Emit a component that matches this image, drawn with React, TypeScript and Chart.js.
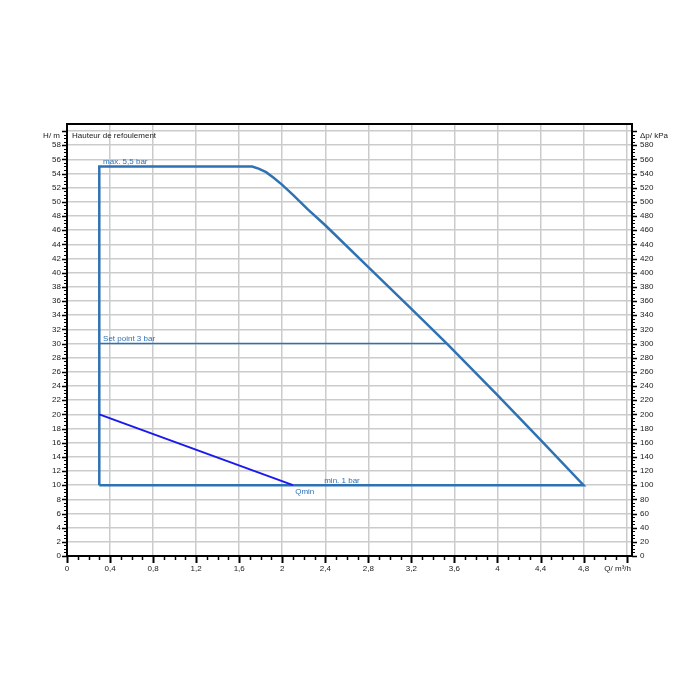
import React, { useEffect, useRef } from 'react';
import { Chart, registerables } from 'chart.js';

Chart.register(...registerables);

// ---- data ----
const xTickValues = [0, 0.4, 0.8, 1.2, 1.6, 2, 2.4, 2.8, 3.2, 3.6, 4, 4.4, 4.8, 5.2];
const xTickLabels = ['0', '0,4', '0,8', '1,2', '1,6', '2', '2,4', '2,8', '3,2', '3,6', '4', '4,4', '4,8', ''];
const yTickValues = [0, 2, 4, 6, 8, 10, 12, 14, 16, 18, 20, 22, 24, 26, 28, 30, 32, 34, 36, 38, 40, 42, 44, 46, 48, 50, 52, 54, 56, 58, 60];
const yLeftLabels = ['0', '2', '4', '6', '8', '10', '12', '14', '16', '18', '20', '22', '24', '26', '28', '30', '32', '34', '36', '38', '40', '42', '44', '46', '48', '50', '52', '54', '56', '58', ''];
const yRightValues = [0, 20, 40, 60, 80, 100, 120, 140, 160, 180, 200, 220, 240, 260, 280, 300, 320, 340, 360, 380, 400, 420, 440, 460, 480, 500, 520, 540, 560, 580, 600];
const yRightLabels = ['0', '20', '40', '60', '80', '100', '120', '140', '160', '180', '200', '220', '240', '260', '280', '300', '320', '340', '360', '380', '400', '420', '440', '460', '480', '500', '520', '540', '560', '580', ''];

// operating range outline (Q m³/h, H m)
const outlineQ = [0.3, 0.3, 1.72, 1.78, 1.85, 1.92, 2.0, 2.1, 2.24, 2.4, 2.8, 3.2, 3.53, 4.0, 4.4, 4.8, 0.3];
const outlineH = [10, 55, 55, 54.7, 54.2, 53.4, 52.4, 51.0, 48.9, 46.7, 40.8, 34.9, 30, 22.7, 16.4, 10, 10];
// set point line
const setPointQ = [0.3, 3.53];
const setPointH = [30, 30];
// Qmin line
const qminQ = [0.3, 2.1];
const qminH = [20, 10];

// annotations
const noteTexts = ['max. 5,5 bar', 'Set point 3 bar', 'min. 1 bar', 'Qmin'];
const noteQ = [0.335, 0.335, 2.39, 2.12];
const noteH = [55.65, 30.6, 10.63, 9.05];
const chartTitle = 'Hauteur de refoulement';
const yLeftTitle = 'H/ m';
const yRightTitle = 'Δp/ kPa';
const xTitle = 'Q/ m³/h';

const FONT = "Arial, 'Liberation Sans', sans-serif";
const LINE_BLUE = '#2f72b4';
const QMIN_BLUE = '#1a1aee';

const toPts = (xs: number[], ys: number[]) => xs.map((x, i) => ({ x, y: ys[i] }));

const overlayPlugin = {
  id: 'overlay',
  afterDraw(chart: any) {
    const { ctx, chartArea: a, scales } = chart;
    const xs = scales.x;
    const ys = scales.y;
    ctx.save();
    ctx.strokeStyle = '#000';
    // x ticks (minor 0.1, major 0.4)
    for (let k = 0; k <= 52; k++) {
      const major = k % 4 === 0;
      const px = Math.round(xs.getPixelForValue(k / 10)) + 0.5;
      ctx.lineWidth = major ? 2 : 1.5;
      ctx.beginPath();
      ctx.moveTo(px, a.bottom);
      ctx.lineTo(px, a.bottom + (major ? 7 : 4));
      ctx.stroke();
    }
    // y ticks (minor 0.5, major 2)
    for (let k = 0; k <= 120; k++) {
      const major = k % 4 === 0;
      const py = Math.round(ys.getPixelForValue(k / 2)) + 0.5;
      ctx.lineWidth = major ? 1.5 : 1;
      const len = major ? 5 : 3;
      ctx.beginPath();
      ctx.moveTo(a.left - len, py);
      ctx.lineTo(a.left, py);
      ctx.moveTo(a.right, py);
      ctx.lineTo(a.right + len, py);
      ctx.stroke();
    }
    // frame
    ctx.lineWidth = 2;
    ctx.strokeRect(a.left, a.top, a.right - a.left, a.bottom - a.top);

    // annotations
    ctx.font = `8px ${FONT}`;
    ctx.textBaseline = 'middle';
    ctx.textAlign = 'left';
    ctx.fillStyle = LINE_BLUE;
    noteTexts.forEach((t, i) => {
      ctx.fillText(t, xs.getPixelForValue(noteQ[i]), ys.getPixelForValue(noteH[i]));
    });
    ctx.fillStyle = '#1a1a1a';
    ctx.fillText(chartTitle, a.left + 5, a.top + 12);
    ctx.textAlign = 'right';
    ctx.fillText(yLeftTitle, a.left - 7, a.top + 12);
    ctx.textAlign = 'left';
    ctx.fillText(yRightTitle, a.right + 8, a.top + 12);
    ctx.textAlign = 'right';
    ctx.fillText(xTitle, a.right - 1, a.bottom + 13);
    ctx.restore();
  },
};

export default function App() {
  const canvasRef = useRef<HTMLCanvasElement | null>(null);

  useEffect(() => {
    if (!canvasRef.current) return;
    const gridOpts = { color: '#cbcbcb', lineWidth: 1.5, drawTicks: false };
    const tickFont = { family: FONT, size: 8 };
    const chart = new Chart(canvasRef.current, {
      type: 'scatter',
      data: {
        datasets: [
          {
            data: toPts(setPointQ, setPointH),
            showLine: true,
            borderColor: LINE_BLUE,
            borderWidth: 1.5,
            pointRadius: 0,
            fill: false,
            yAxisID: 'y',
          },
          {
            data: toPts(qminQ, qminH),
            showLine: true,
            borderColor: QMIN_BLUE,
            borderWidth: 2,
            pointRadius: 0,
            fill: false,
            yAxisID: 'y',
          },
          {
            data: toPts(outlineQ, outlineH),
            showLine: true,
            borderColor: LINE_BLUE,
            borderWidth: 2.5,
            pointRadius: 0,
            fill: false,
            yAxisID: 'y',
          },
        ],
      },
      options: {
        responsive: false,
        animation: false,
        devicePixelRatio: 1,
        layout: { padding: { top: 124, left: 0, right: 0, bottom: 0 } },
        plugins: { legend: { display: false }, tooltip: { enabled: false }, title: { display: false } },
        scales: {
          x: {
            type: 'linear',
            min: 0,
            max: 5.25,
            grid: gridOpts,
            border: { display: false },
            afterBuildTicks: (s: any) => {
              s.ticks = xTickValues.map((v) => ({ value: v }));
            },
            afterFit: (s: any) => {
              s.height = 144;
            },
            ticks: {
              autoSkip: false,
              maxRotation: 0,
              padding: 8,
              color: '#1a1a1a',
              font: tickFont,
              callback: (_v: any, i: number) => xTickLabels[i],
            },
          },
          y: {
            type: 'linear',
            position: 'left',
            min: 0,
            max: 61,
            grid: gridOpts,
            border: { display: false },
            afterBuildTicks: (s: any) => {
              s.ticks = yTickValues.map((v) => ({ value: v }));
            },
            afterFit: (s: any) => {
              s.width = 67;
            },
            ticks: {
              autoSkip: false,
              padding: 6,
              color: '#1a1a1a',
              font: tickFont,
              callback: (_v: any, i: number) => yLeftLabels[i],
            },
          },
          y1: {
            type: 'linear',
            position: 'right',
            min: 0,
            max: 610,
            grid: { display: false, drawTicks: false },
            border: { display: false },
            afterBuildTicks: (s: any) => {
              s.ticks = yRightValues.map((v) => ({ value: v }));
            },
            afterFit: (s: any) => {
              s.width = 68;
            },
            ticks: {
              autoSkip: false,
              padding: 8,
              color: '#1a1a1a',
              font: tickFont,
              callback: (_v: any, i: number) => yRightLabels[i],
            },
          },
        },
      },
      plugins: [overlayPlugin],
    } as any);
    return () => chart.destroy();
  }, []);

  return (
    <div style={{ position: 'absolute', left: 0, top: 0, width: 700, height: 700, background: '#fff' }}>
      <canvas ref={canvasRef} width={700} height={700} style={{ display: 'block' }} />
    </div>
  );
}
